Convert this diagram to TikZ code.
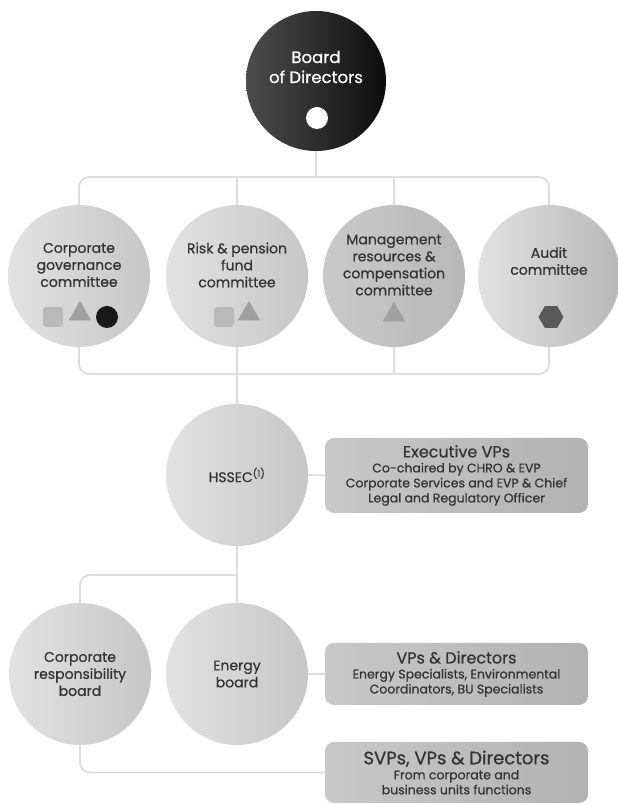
\documentclass[tikz,border=0pt]{standalone}
\usepackage{fontspec}
\setmainfont{Poppins}[FakeBold=0.6]
\usetikzlibrary{shapes.geometric}

\definecolor{ink}{HTML}{333333}
\definecolor{wire}{HTML}{DDDDDD}
\definecolor{discL}{HTML}{E2E2E2}
\definecolor{discR}{HTML}{C6C6C6}
\definecolor{boxL}{HTML}{C8C8C8}
\definecolor{boxR}{HTML}{B2B2B2}

\tikzset{
  disc/.style={circle, minimum size=142, inner sep=0, left color=discL, right color=discR},
  darkdisc/.style={disc, left color=black!21, right color=black!28},
  boardbox/.style={rectangle, rounded corners=9, minimum width=263, inner sep=0,
    left color=boxL, right color=boxR, text=ink, align=center,
    font=\fontsize{12.5}{15}\selectfont},
  lbl/.style={align=center, text=ink, font=\fontsize{14}{17}\selectfont},
  link/.style={draw=wire, line width=1.8, rounded corners=10},
  sqmark/.style={rectangle, rounded corners=3, minimum size=20, inner sep=0, fill=gray!55},
  trimark/.style={regular polygon, regular polygon sides=3, minimum size=26, inner sep=0, fill=gray!75},
  dotmark/.style={circle, minimum size=22, inner sep=0, fill=black!90},
  hexmark/.style={regular polygon, regular polygon sides=6, minimum size=25, inner sep=0, fill=black!65}
}

\begin{document}
\begin{tikzpicture}[x=1pt, y=1pt]
  \useasboundingbox (0,0) rectangle (618,804);

  % board
  \node[circle, minimum size=140, inner sep=0, left color=black!70, right color=black!95] (board) at (316,723) {};
  \node[lbl, text=white, font=\fontsize{16.5}{20}\selectfont] (board-t) at ([yshift=14]board) {Board\\of Directors};
  \node[circle, minimum size=22, inner sep=0, fill=white] (board-dot) at ([xshift=1,yshift=-37]board) {};

  % committees
  \node[disc] (gov) at (79,528) {};
  \node[disc] (risk) at (237,528) {};
  \node[darkdisc] (mgmt) at (394,528) {};
  \node[disc, right color=black!28] (audit) at (549,528) {};

  \node[lbl] (gov-t) at ([yshift=11]gov) {Corporate\\governance\\committee};
  \node[lbl] (risk-t) at ([yshift=11]risk) {Risk \& pension\\fund\\committee};
  \node[lbl] (mgmt-t) at ([yshift=11]mgmt) {Management\\resources \&\\compensation\\committee};
  \node[lbl] (audit-t) at ([yshift=15]audit) {Audit\\committee};

  \node[sqmark] (gov-a) at ([xshift=-26,yshift=-41]gov) {};
  \node[trimark] (gov-b) at ([xshift=1,yshift=-38]gov) {};
  \node[dotmark] (gov-c) at ([xshift=28,yshift=-41]gov) {};
  \node[sqmark] (risk-a) at ([xshift=-13,yshift=-41]risk) {};
  \node[trimark] (risk-b) at ([xshift=12,yshift=-38]risk) {};
  \node[trimark] (mgmt-a) at ([yshift=-39]mgmt) {};
  \node[hexmark] (audit-a) at ([xshift=2,yshift=-41]audit) {};

  \coordinate (topbar) at (316,627);
  \coordinate (botbar) at (316,430);

  \draw[link] (board) -- (topbar);
  \draw[link] (gov.north) |- (topbar) -| (audit.north);
  \draw[link] (risk.north) -- (risk.north |- topbar);
  \draw[link] (mgmt.north) -- (mgmt.north |- topbar);
  \draw[link] (gov.south) |- (botbar) -| (audit.south);
  \draw[link] (mgmt.south) -- (mgmt.south |- botbar);

  % HSSEC
  \node[disc] (hssec) at (237,329) {};
  \node[lbl] (hssec-t) at (hssec) {HSSEC\textsuperscript{(1)}};
  \node[boardbox, minimum height=75] (exec) at (456.5,328.5)
    {{\fontsize{16}{18}\selectfont Executive VPs}\\Co-chaired by CHRO \& EVP\\Corporate Services and EVP \& Chief\\Legal and Regulatory Officer};

  \draw[link] (risk.south) -- (hssec.north);
  \draw[link] (hssec.east) -- (exec.west);

  % boards
  \node[disc] (crb) at (80,130) {};
  \node[disc] (energy) at (237,130) {};
  \node[lbl] (crb-t) at (crb) {Corporate\\responsibility\\board};
  \node[lbl] (energy-t) at (energy) {Energy\\board};
  \node[boardbox, minimum height=62] (vps) at (456.5,130)
    {{\fontsize{16}{18}\selectfont VPs \& Directors}\\Energy Specialists, Environmental\\Coordinators, BU Specialists};
  \node[boardbox, minimum height=61] (svps) at (456.5,31.5)
    {{\fontsize{18}{19}\selectfont SVPs, VPs \& Directors}\\From corporate and\\business units functions};

  \coordinate (bar2) at (237,229);
  \draw[link] (hssec.south) -- (energy.north);
  \draw[link] (crb.north) |- (bar2);
  \draw[link] (energy.east) -- (vps.west);
  \draw[link] (crb.south) |- (svps.west);
\end{tikzpicture}
\end{document}
